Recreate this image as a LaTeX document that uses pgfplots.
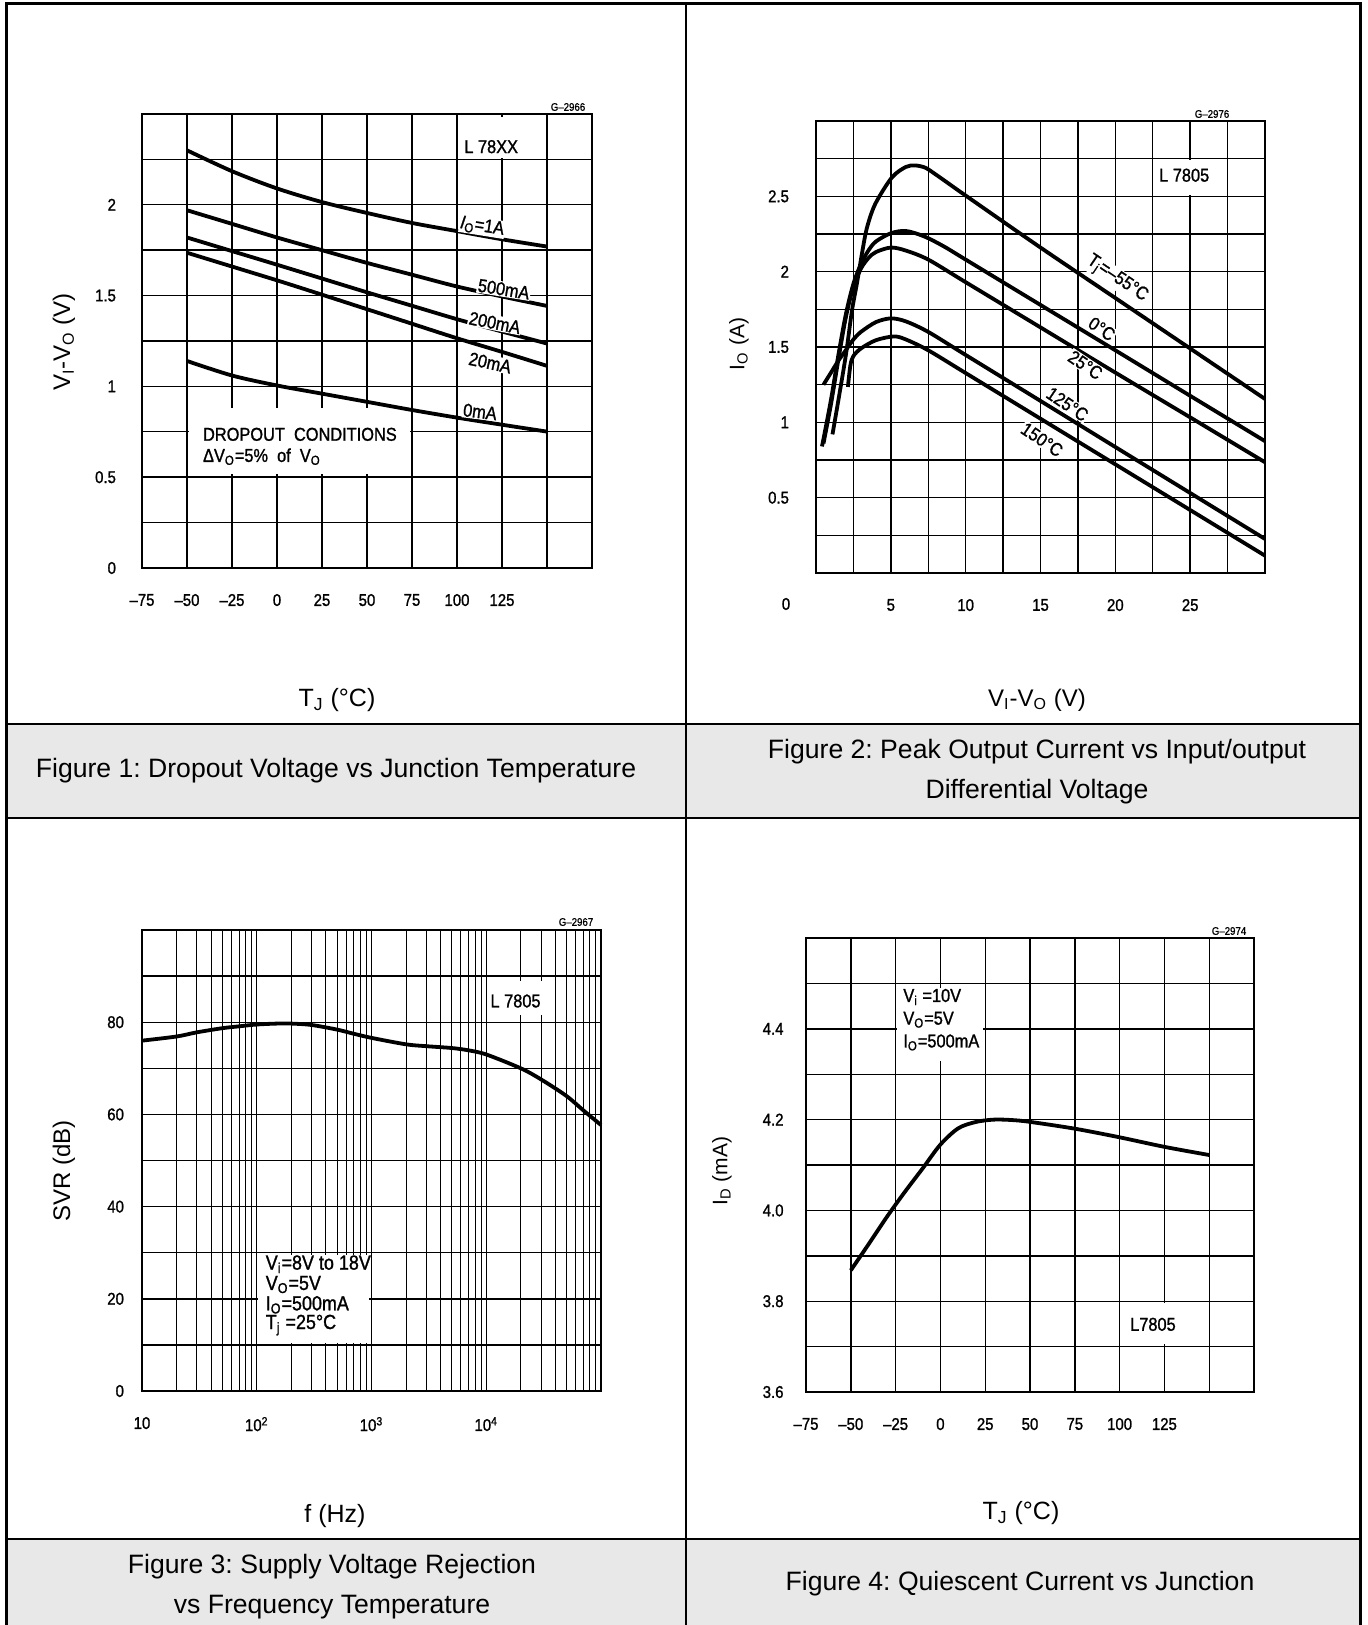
\documentclass[border=0pt]{standalone}
\usepackage{fontspec}
\setmainfont{Liberation Sans}
\newfontfamily\tickfont[FakeStretch=0.88,FakeBold=1.2]{Liberation Sans}
\usepackage{pgfplots}
\pgfplotsset{compat=1.18}
\definecolor{capgray}{HTML}{E8E8E8}
\frenchspacing

\newcommand\tfont{\tickfont\fontsize{8.5}{10}\selectfont}
\newcommand\lfont{\tickfont\fontsize{9.3}{10.5}\selectfont}
\newcommand\gfont{\tickfont\fontsize{5.5}{6}\selectfont}

\pgfplotsset{
  sheet/.style={
    scale only axis, anchor=north west,
    grid=major,
    grid style={black, line width=0.7pt},
    axis line style={black, line width=1.1pt},
    major tick length=0pt, minor tick length=0pt,
    ticklabel style={font=\tfont, text=black},
    xticklabel style={yshift=-9.5pt},
    clip=false,
  },
  curve/.style={black, line width=1.9pt, smooth, mark=none},
}

\begin{document}
\begin{tikzpicture}
\useasboundingbox (0,0) rectangle (683.5pt,-812.5pt);

% table cells, 1 unit = 1 px of the reference
\begin{scope}[x=0.5pt,y=-0.5pt]
  \fill[capgray] (8,724) rectangle (1360,818);
  \fill[capgray] (8,1539) rectangle (1360,1625);
  \draw[line width=1pt] (686,3) -- (686,1625);
  \draw[line width=1pt] (7,724) -- (1360,724);
  \draw[line width=1pt] (7,818) -- (1360,818);
  \draw[line width=1pt] (7,1539) -- (1360,1539);
  \draw[line width=1.5pt] (6.5,1625) -- (6.5,3.5) -- (1360.5,3.5) -- (1360.5,1625);

  \node[rotate=90, font=\fontsize{12}{14}\selectfont] at (64,342) {V\textsubscript{I}-V\textsubscript{O} (V)};
  \node[font=\fontsize{12.5}{14}\selectfont] at (337,700) {T\textsubscript{J} (°C)};
  \node[rotate=90, font=\fontsize{10.5}{12}\selectfont] at (739,344) {I\textsubscript{O} (A)};
  \node[font=\fontsize{12}{14}\selectfont] at (1037,700) {V\textsubscript{I}-V\textsubscript{O} (V)};
  \node[rotate=90, font=\fontsize{12}{14}\selectfont] at (64,1171) {SVR (dB)};
  \node[font=\fontsize{12.5}{14}\selectfont] at (335,1516) {f (Hz)};
  \node[rotate=90, font=\fontsize{10.5}{12}\selectfont] at (722,1171) {I\textsubscript{D} (mA)};
  \node[font=\fontsize{12.5}{14}\selectfont] at (1021,1513) {T\textsubscript{J} (°C)};

  \node[font=\fontsize{13.3}{20}\selectfont] at (336,771) {Figure 1: Dropout Voltage vs Junction Temperature};
  \node[font=\fontsize{13.3}{20}\selectfont, align=center] at (1037,772) {Figure 2: Peak Output Current vs Input/output\\Differential Voltage};
  \node[font=\fontsize{13.3}{20}\selectfont, align=center] at (332,1587) {Figure 3: Supply Voltage Rejection\\vs Frequency Temperature};
  \node[font=\fontsize{13.3}{20}\selectfont] at (1020,1584) {Figure 4: Quiescent Current vs Junction};

  \node[font=\gfont] at (568,107) {G–2966};
  \node[font=\gfont] at (1212,114) {G–2976};
  \node[font=\gfont] at (576,922) {G–2967};
  \node[font=\gfont] at (1229,931) {G–2974};
  \node[font=\tfont] at (786,604) {0};
\end{scope}

% Figure 1
\begin{axis}[sheet, at={(71pt,-57pt)}, width=225pt, height=227pt,
  xmin=-75, xmax=175, ymin=0, ymax=2.5,
  xtick={-75,-50,-25,0,25,50,75,100,125,150,175},
  xticklabels={–75,–50,–25,0,25,50,75,100,125,,},
  ytick={0,0.25,0.5,0.75,1,1.25,1.5,1.75,2,2.25,2.5},
  yticklabels={0,,0.5,,1,,1.5,,2,,},
  yticklabel style={xshift=-9.5pt},
]
  \fill[white] (axis cs:-49,0.52) rectangle (axis cs:74,0.88);
  \fill[white] (axis cs:101,2.26) rectangle (axis cs:149,2.485);
  \addplot[curve] coordinates {(-50,2.30) (-25,2.185) (0,2.09) (25,2.015) (50,1.955) (75,1.90) (100,1.855) (125,1.81) (150,1.77)};
  \addplot[curve] coordinates {(-50,1.97) (-25,1.895) (0,1.82) (25,1.75) (50,1.68) (75,1.615) (100,1.55) (125,1.495) (150,1.443)};
  \addplot[curve] coordinates {(-50,1.82) (-25,1.745) (0,1.67) (25,1.594) (50,1.518) (75,1.444) (100,1.37) (125,1.302) (150,1.236)};
  \addplot[curve] coordinates {(-50,1.736) (-25,1.66) (0,1.584) (25,1.505) (50,1.425) (75,1.345) (100,1.265) (125,1.19) (150,1.113)};
  \addplot[curve] coordinates {(-50,1.14) (-25,1.06) (0,1.005) (25,0.96) (50,0.915) (75,0.87) (100,0.828) (125,0.789) (150,0.751)};
  \node[font=\lfont] at (axis cs:119,2.32) {L 78XX};
  \node[font=\lfont, fill=white, inner sep=0.5pt, rotate=-9] at (axis cs:114,1.88) {\textit{I}\textsubscript{O}=1A};
  \node[font=\lfont, fill=white, inner sep=0.5pt, rotate=-9] at (axis cs:126,1.535) {500mA};
  \node[font=\lfont, fill=white, inner sep=0.5pt, rotate=-11] at (axis cs:121,1.35) {200mA};
  \node[font=\lfont, fill=white, inner sep=0.5pt, rotate=-12] at (axis cs:118.4,1.13) {20mA};
  \node[font=\lfont, fill=white, inner sep=0.5pt, rotate=-7] at (axis cs:112.8,0.86) {0mA};
  \node[font=\lfont, anchor=west] at (axis cs:-45,0.736) {DROPOUT\ \ CONDITIONS};
  \node[font=\lfont, anchor=west] at (axis cs:-45,0.613) {ΔV\textsubscript{O}=5\%\ \ of\ \ V\textsubscript{O}};
\end{axis}

% Figure 2
\begin{axis}[sheet, at={(408pt,-60.5pt)}, width=224.5pt, height=226pt,
  xmin=0, xmax=30, ymin=0, ymax=3,
  xtick={0,2.5,5,7.5,10,12.5,15,17.5,20,22.5,25,27.5,30},
  xticklabels={,,5,,10,,15,,20,,25,,},
  ytick={0,0.25,0.5,0.75,1,1.25,1.5,1.75,2,2.25,2.5,2.75,3},
  yticklabels={,,0.5,,1,,1.5,,2,,2.5,,},
  yticklabel style={xshift=-10pt},
]
  \fill[white] (axis cs:22.65,2.51) rectangle (axis cs:27.35,2.74);
  \addplot[curve] coordinates {(1.1,0.92) (1.5,1.15) (2,1.45) (2.4,1.74) (2.73,1.92) (3.07,2.12) (3.4,2.29) (3.96,2.45) (5.07,2.625) (6.0,2.695) (6.62,2.705) (7.3,2.69) (8,2.645) (9,2.575) (10,2.505) (15,2.16) (20,1.825) (25,1.49) (30,1.155)};
  \addplot[curve] coordinates {(0.4,0.84) (1,1.15) (1.5,1.45) (2,1.72) (2.5,1.92) (3,2.05) (3.5,2.14) (4,2.2) (5,2.255) (6,2.27) (7.2,2.235) (8.5,2.17) (10,2.08) (15,1.779) (20,1.478) (25,1.176) (30,0.875)};
  \addplot[curve] coordinates {(0.5,0.86) (1,1.12) (1.5,1.42) (2,1.7) (2.5,1.9) (3,2.02) (3.5,2.09) (4,2.13) (5,2.16) (6,2.14) (7.5,2.08) (10,1.93) (15,1.63) (20,1.33) (25,1.033) (30,0.735)};
  \addplot[curve] coordinates {(0.5,1.25) (1,1.33) (1.5,1.41) (2,1.48) (2.5,1.55) (3,1.6) (4,1.665) (5,1.69) (6,1.67) (7.5,1.60) (10,1.447) (15,1.142) (20,0.836) (25,0.531) (30,0.226)};
  \addplot[curve] coordinates {(2.13,1.235) (2.3,1.38) (2.5,1.44) (3,1.49) (4,1.545) (5.2,1.57) (6,1.55) (7.5,1.478) (10,1.327) (15,1.024) (20,0.721) (25,0.418) (30,0.115)};
  \node[font=\lfont] at (axis cs:24.6,2.64) {L 7805};
  \node[font=\lfont, fill=white, inner sep=0.5pt, rotate=-34] at (axis cs:20.1,1.95) {T\textsubscript{j}=–55°C};
  \node[font=\lfont, fill=white, inner sep=0.5pt, rotate=-34] at (axis cs:19.1,1.62) {0°C};
  \node[font=\lfont, fill=white, inner sep=0.5pt, rotate=-34] at (axis cs:18,1.38) {25°C};
  \node[font=\lfont, fill=white, inner sep=0.5pt, rotate=-34] at (axis cs:16.8,1.12) {125°C};
  \node[font=\lfont, fill=white, inner sep=0.5pt, rotate=-34] at (axis cs:15.1,0.885) {150°C};
\end{axis}

% Figure 3
\begin{axis}[sheet, at={(71pt,-465pt)}, width=229.5pt, height=230.5pt,
  xmode=log, xmin=10, xmax=100000, ymin=0, ymax=100,
  grid=both, minor grid style={black, line width=0.45pt},
  xtick={10,100,1000,10000,100000},
  xticklabels={10,10\textsuperscript{2},10\textsuperscript{3},10\textsuperscript{4},},
  ytick={0,10,20,30,40,50,60,70,80,90,100},
  yticklabels={0,,20,,40,,60,,80,,},
  yticklabel style={xshift=-5.5pt},
]
  \fill[white] (axis cs:103,10.4) rectangle (axis cs:960,29.6);
  \fill[white] (axis cs:10500,81.5) rectangle (axis cs:33000,89);
  \addplot[curve] coordinates {(10,76.0) (20,76.9) (30,77.8) (50,78.7) (70,79.1) (100,79.5) (150,79.7) (200,79.7) (300,79.4) (500,78.4) (700,77.5) (1000,76.6) (2000,75.2) (3000,74.8) (5000,74.4) (7000,73.9) (10000,73.0) (20000,70.0) (30000,67.6) (50000,64.0) (70000,60.9) (100000,57.7)};
  \node[font=\lfont] at (axis cs:18000,84.6) {L 7805};
  \begin{scope}[font=\tickfont\fontsize{10.2}{12}\selectfont]
  \node[anchor=west] at (axis cs:104,27.5) {V\textsubscript{i}=8V to 18V};
  \node[anchor=west] at (axis cs:104,23.1) {V\textsubscript{O}=5V};
  \node[anchor=west] at (axis cs:104,18.7) {I\textsubscript{O}=500mA};
  \node[anchor=west] at (axis cs:104,14.3) {T\textsubscript{j} =25°C};
  \end{scope}
\end{axis}

% Figure 4
\begin{axis}[sheet, at={(403pt,-469pt)}, width=224pt, height=227pt,
  xmin=-75, xmax=175, ymin=3.6, ymax=4.6,
  xtick={-75,-50,-25,0,25,50,75,100,125,150,175},
  xticklabels={–75,–50,–25,0,25,50,75,100,125,,},
  ytick={3.6,3.7,3.8,3.9,4.0,4.1,4.2,4.3,4.4,4.5,4.6},
  yticklabels={3.6,,3.8,,4.0,,4.2,,4.4,,},
  yticklabel style={xshift=-7.7pt},
]
  \fill[white] (axis cs:-24.5,4.33) rectangle (axis cs:24,4.49);
  \fill[white] (axis cs:101,3.705) rectangle (axis cs:149,3.795);
  \addplot[curve] coordinates {(-50,3.868) (-40,3.926) (-30,3.985) (-20,4.04) (-10,4.092) (0,4.145) (10,4.181) (20,4.195) (30,4.2) (40,4.199) (50,4.195) (75,4.18) (100,4.161) (125,4.14) (150,4.122)};
  \node[font=\lfont] at (axis cs:118.6,3.749) {L7805};
  \node[font=\lfont, anchor=west] at (axis cs:-24.6,4.47) {V\textsubscript{i} =10V};
  \node[font=\lfont, anchor=west] at (axis cs:-24.6,4.42) {V\textsubscript{O}=5V};
  \node[font=\lfont, anchor=west] at (axis cs:-24.6,4.37) {I\textsubscript{O}=500mA};
\end{axis}
\end{tikzpicture}
\end{document}
